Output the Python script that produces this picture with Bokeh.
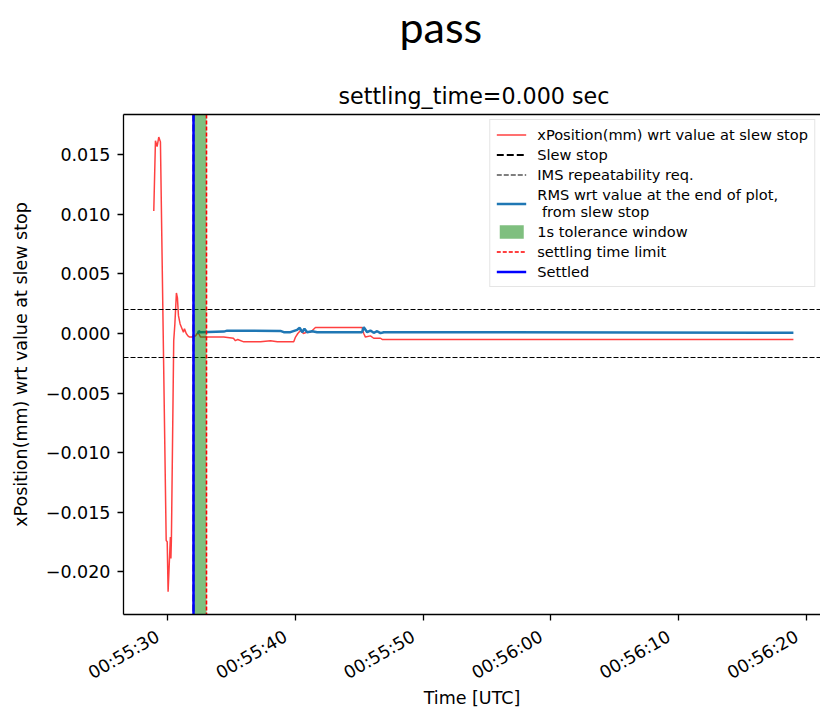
import math
import pandas as pd
from bokeh.plotting import figure
from bokeh.models import (Range1d, FixedTicker, DatetimeTickFormatter, CustomJSTickFormatter,
                          Legend, LegendItem, Title, LinearAxis)
from bokeh.embed import file_html
from bokeh.resources import INLINE

# ---------------- data (seconds after 00:55:00 UTC) ----------------
BASE = "2024-01-01 00:55:00"

pos_t = [28.93, 29.06, 29.19, 29.32, 29.45, 29.90, 29.98, 30.05, 30.23, 30.27, 30.31,
         30.49, 30.58, 30.70, 30.78, 30.86, 30.99, 31.10, 31.25, 31.33, 31.47, 31.60,
         31.73, 31.92, 32.03, 32.20, 32.33, 32.45, 32.59, 34.40, 35.16, 35.32, 35.50,
         35.97, 36.49, 37.28, 38.06, 38.60, 38.84, 39.88, 40.02, 40.20, 40.41, 40.64,
         40.93, 41.19, 41.58, 45.23, 45.36, 45.49, 45.88, 46.14, 46.67, 46.80, 78.98]
pos_v = [0.0103, 0.0162, 0.0157, 0.0165, 0.0161, -0.0174, -0.0175, -0.0217, -0.0171, -0.0189, -0.0172,
         -0.0006, 0.0008, 0.0034, 0.0030, 0.0015, 0.0008, 0.0005, 0.0001, 0.0004, 0.0000, -0.0002,
         -0.0003, -0.0003, -0.0002, -0.0002, 0.0000, 0.0000, -0.0003, -0.0003, -0.0004, -0.0006, -0.0005,
         -0.0007, -0.0007, -0.0007, -0.0006, -0.0007, -0.0007, -0.0007, -0.0003, 0.0000, 0.00025, 0.0000,
         0.00012, 0.0001, 0.0005, 0.0005, 0.0000, -0.0003, -0.0002, -0.0004, -0.0004, -0.0005, -0.0005]

rms_t = [32.37, 32.45, 32.58, 34.41, 34.67, 38.84, 39.10, 39.62, 40.15, 40.35, 40.54, 40.72,
         40.93, 41.32, 41.71, 45.23, 45.36, 45.63, 45.88, 46.14, 46.41, 46.67, 46.93, 78.98]
rms_v = [-0.00003, 0.0002, 0.00011, 0.00016, 0.00024, 0.00022, 0.00011, 0.00011, 0.00031, 0.00048,
         0.00011, 0.0004, 0.00011, 0.00019, 0.00011, 0.00011, 0.00053, 0.00011, 0.00025, 0.00006,
         0.00019, 0.00003, 0.00011, 0.00006]

slew_stop_t = 32.03
settled_t = 32.03
tolerance_s = 1.0
ims_req = 0.002

xtick_labels = ["00:55:30", "00:55:40", "00:55:50", "00:56:00", "00:56:10", "00:56:20"]
yticks = [-0.020, -0.015, -0.010, -0.005, 0.000, 0.005, 0.010, 0.015]
x_limits_s = (26.56, 81.10)
y_limits = (-0.02361, 0.0184)

# ---------------- helpers ----------------
base = pd.Timestamp(BASE)


def ts(s):
    return base + pd.to_timedelta(s, unit="s")


pos_x = [ts(s) for s in pos_t]
rms_x = [ts(s) for s in rms_t]
xticks_ms = [int(pd.Timestamp(BASE[:11] + lbl).value // 10**6) for lbl in xtick_labels]

FONT = "DejaVu Sans"

p = figure(width=820, height=711, x_axis_type="datetime", output_backend="svg",
           toolbar_location=None, title=None,
           x_range=Range1d(ts(x_limits_s[0]), ts(x_limits_s[1])),
           y_range=Range1d(*y_limits),
           min_border_left=123, min_border_right=0, min_border_top=114, min_border_bottom=97)
p.xgrid.visible = False
p.ygrid.visible = False
p.outline_line_color = None
p.background_fill_color = "white"
p.border_fill_color = "white"

# ---------------- glyphs ----------------
r_pos = p.line(pos_x, pos_v, line_color="red", line_alpha=0.75, line_width=1.5)
r_slew = p.vspan(x=[ts(slew_stop_t)], line_color="black", line_dash="7 3", line_width=2)
r_ims = p.hspan(y=[ims_req, -ims_req], line_color="black", line_dash="5 2", line_width=1.1)
r_rms = p.line(rms_x, rms_v, line_color="#1f77b4", line_width=2.5)
r_win = p.vstrip(x0=[ts(slew_stop_t)], x1=[ts(slew_stop_t + tolerance_s)],
                 fill_color="green", fill_alpha=0.5, line_color=None)
r_lim = p.vspan(x=[ts(slew_stop_t + tolerance_s)], line_color="red", line_dash="4 2", line_width=1.6)
r_set = p.vspan(x=[ts(settled_t)], line_color="blue", line_width=2.5)

# ---------------- axes ----------------
p.xaxis.ticker = FixedTicker(ticks=xticks_ms)
# two trailing no-break spaces shift the rotated (right-anchored) labels like matplotlib's ha="right"
fmt = "%H:%M:%S\u00a0\u00a0"
p.xaxis.formatter = DatetimeTickFormatter(milliseconds=fmt, seconds=fmt, minsec=fmt, minutes=fmt,
                                          hourmin=fmt, hours=fmt, days=fmt, months=fmt, years=fmt)
p.xaxis.major_label_orientation = math.pi / 6
p.xaxis.axis_label = "Time [UTC]"

p.yaxis.ticker = FixedTicker(ticks=yticks)
p.yaxis.formatter = CustomJSTickFormatter(
    code="return (tick < -1e-12 ? '\u2212' : '') + Math.abs(tick).toFixed(3);")
p.yaxis.axis_label = "xPosition(mm) wrt value at slew stop"

for ax in (p.xaxis[0], p.yaxis[0]):
    ax.axis_line_color = "black"
    ax.axis_line_width = 1.3
    ax.major_tick_line_color = "black"
    ax.major_tick_line_width = 1.3
    ax.major_tick_out = 6
    ax.major_tick_in = 0
    ax.minor_tick_out = 0
    ax.minor_tick_in = 0
    ax.major_label_text_font = FONT
    ax.major_label_text_font_size = "17.5px"
    ax.major_label_text_color = "black"
    ax.axis_label_text_font = FONT
    ax.axis_label_text_font_size = "17.5px"
    ax.axis_label_text_font_style = "normal"
    ax.axis_label_text_color = "black"

p.xaxis.major_label_standoff = 9
p.xaxis.axis_label_standoff = -7
p.yaxis.major_label_standoff = 7
p.yaxis.axis_label_standoff = 12

top = LinearAxis(ticker=FixedTicker(ticks=[]), major_tick_out=0, major_tick_in=0,
                 minor_tick_out=0, minor_tick_in=0, major_label_text_font_size="0px",
                 axis_line_color="black", axis_line_width=1.3)
p.add_layout(top, "above")

sub = Title(text="settling_time=0.000 sec", align="left", offset=215, standoff=12,
            text_font=FONT, text_font_size="22.2px", text_font_style="normal", text_color="black")
p.add_layout(sub, "above")
spacer = Title(text=" ", standoff=18, text_font=FONT, text_font_size="10px")
p.add_layout(spacer, "above")
main = Title(text="pass", align="left", offset=276, standoff=-16, vertical_align="bottom",
             text_font="Lato", text_font_size="43px", text_font_style="normal", text_color="black")
p.add_layout(main, "above")

# ---------------- legend ----------------
legend = Legend(items=[
    LegendItem(label="xPosition(mm) wrt value at slew stop", renderers=[r_pos]),
    LegendItem(label="Slew stop", renderers=[r_slew]),
    LegendItem(label="IMS repeatability req.", renderers=[r_ims]),
    LegendItem(label="RMS wrt value at the end of plot,\n from slew stop", renderers=[r_rms]),
    LegendItem(label="1s tolerance window", renderers=[r_win]),
    LegendItem(label="settling time limit", renderers=[r_lim]),
    LegendItem(label="Settled", renderers=[r_set]),
], location="top_right", margin=5, padding=6, spacing=3,
    glyph_width=30, glyph_height=17, label_height=17, label_standoff=11,
    label_text_font=FONT, label_text_font_size="14.6px", label_text_color="black",
    border_line_color="#cccccc", border_line_width=1, background_fill_alpha=0.8)
p.add_layout(legend)

open("out.html", "w").write(file_html(p, INLINE))
